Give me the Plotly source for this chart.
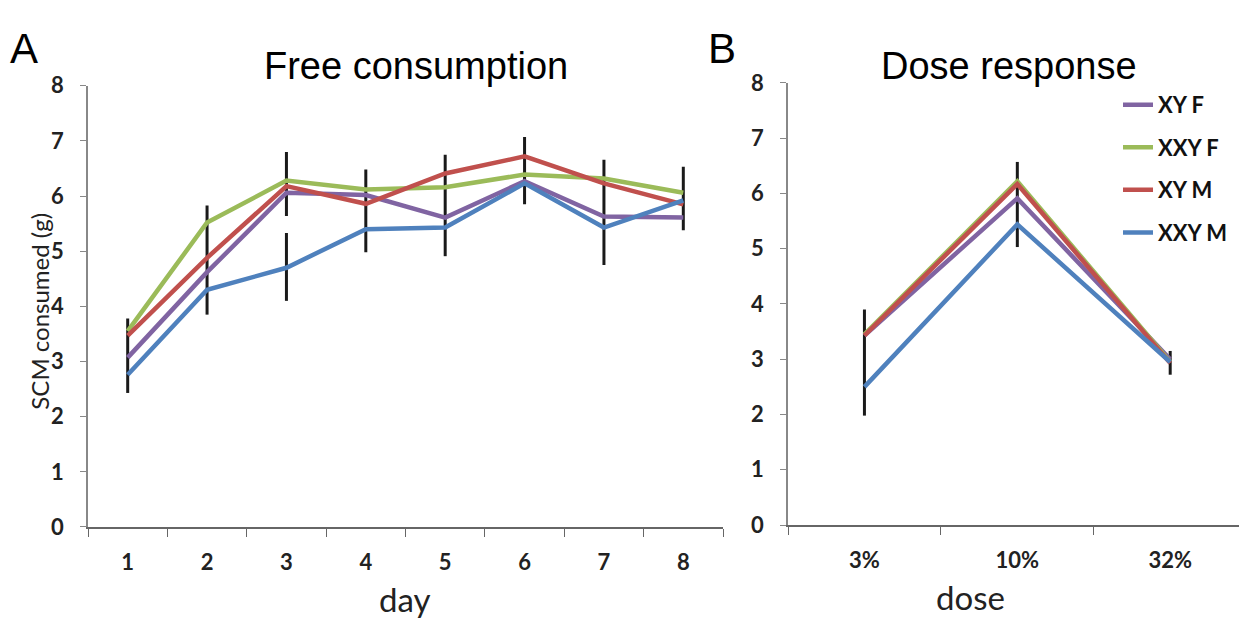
import plotly.graph_objects as go

# ---------------- data ----------------
days = ["1", "2", "3", "4", "5", "6", "7", "8"]
a_xy_f = [3.07, 4.62, 6.06, 6.02, 5.61, 6.27, 5.63, 5.61]
a_xxy_f = [3.55, 5.52, 6.28, 6.12, 6.16, 6.39, 6.32, 6.06]
a_xy_m = [3.47, 4.88, 6.18, 5.86, 6.41, 6.72, 6.23, 5.85]
a_xxy_m = [2.76, 4.30, 4.70, 5.40, 5.43, 6.23, 5.43, 5.92]

a_err_day = ["1", "2", "3", "3", "4", "5", "6", "7", "8"]
a_err_lo = [2.43, 3.85, 5.64, 4.10, 4.98, 4.91, 5.85, 4.75, 5.38]
a_err_hi = [3.78, 5.83, 6.80, 5.33, 6.48, 6.75, 7.07, 6.66, 6.53]

doses = ["3%", "10%", "32%"]
b_xy_f = [3.43, 5.91, 3.00]
b_xxy_f = [3.45, 6.22, 2.95]
b_xy_m = [3.43, 6.17, 2.93]
b_xxy_m = [2.50, 5.44, 2.95]

b_err_dose = ["3%", "10%", "32%"]
b_err_lo = [1.98, 5.03, 2.72]
b_err_hi = [3.90, 6.57, 3.15]

series_names = ["XY F", "XXY F", "XY M", "XXY M"]
colors = ["#8064A2", "#9BBB59", "#C0504D", "#4F81BD"]

# ---------------- figure ----------------
fig = go.Figure()

def err_segments(xs, lo, hi):
    X, Y = [], []
    for x, l, h in zip(xs, lo, hi):
        X += [x, x, None]
        Y += [l, h, None]
    return X, Y

ex, ey = err_segments(a_err_day, a_err_lo, a_err_hi)
fig.add_trace(go.Scatter(x=ex, y=ey, mode="lines", line=dict(color="#1a1a1a", width=3),
                         showlegend=False, hoverinfo="skip", xaxis="x", yaxis="y"))
ex, ey = err_segments(b_err_dose, b_err_lo, b_err_hi)
fig.add_trace(go.Scatter(x=ex, y=ey, mode="lines", line=dict(color="#1a1a1a", width=3),
                         showlegend=False, hoverinfo="skip", xaxis="x2", yaxis="y2"))

for name, col, ya in zip(series_names, colors, [a_xy_f, a_xxy_f, a_xy_m, a_xxy_m]):
    fig.add_trace(go.Scatter(x=days, y=ya, mode="lines", name=name,
                             line=dict(color=col, width=4.5), showlegend=False,
                             xaxis="x", yaxis="y"))
for name, col, yb in zip(series_names, colors, [b_xy_f, b_xxy_f, b_xy_m, b_xxy_m]):
    fig.add_trace(go.Scatter(x=doses, y=yb, mode="lines", name=name,
                             line=dict(color=col, width=4.5), showlegend=True,
                             legendgroup=name, xaxis="x2", yaxis="y2"))

W, H = 1239, 628
tickfont = dict(family="Lato", size=22, color="#222222", weight="bold")

xcommon = dict(type="category", tickson="boundaries", ticks="outside", ticklen=8,
               tickcolor="#666666", tickwidth=1.2, showline=True, linecolor="#666666",
               linewidth=1.5, showgrid=False, zeroline=False, tickfont=tickfont,
               ticklabelstandoff=15)
ycommon = dict(range=[0, 8], tickvals=[0, 1, 2, 3, 4, 5, 6, 7, 8], ticks="outside",
               ticklen=6, tickcolor="#888888", tickwidth=1.2, showline=True,
               linecolor="#888888", linewidth=1.5, showgrid=False, zeroline=False,
               tickfont=tickfont, ticklabelstandoff=12)

fig.update_layout(
    width=W, height=H,
    margin=dict(l=0, r=0, t=0, b=0),
    paper_bgcolor="white", plot_bgcolor="white",
    xaxis=dict(domain=[88 / W, 723 / W], range=[-0.5, 7.5], anchor="y", **xcommon),
    yaxis=dict(domain=[1 - 536 / H, 1 - 75 / H], anchor="x", **ycommon),
    xaxis2=dict(domain=[788 / W, 1.0], range=[-0.5, 2.45], anchor="y2", **xcommon),
    yaxis2=dict(domain=[1 - 534 / H, 1 - 72 / H], anchor="x2", **ycommon),
    legend=dict(x=1118 / W, y=1 - 73 / H, xanchor="left", yanchor="top",
                font=dict(family="Lato", size=22, color="#111111", weight="bold"),
                tracegroupgap=11, itemwidth=30, bgcolor="rgba(0,0,0,0)"),
    showlegend=True,
)

ann = [
    dict(text="A", x=8 / W, y=1 - 36 / H, font=dict(family="Liberation Sans", size=42, color="black"),
         xanchor="left"),
    dict(text="B", x=706 / W, y=1 - 36 / H, font=dict(family="Liberation Sans", size=42, color="black"),
         xanchor="left"),
    dict(text="Free consumption", x=416 / W, y=1 - 54 / H,
         font=dict(family="Liberation Sans", size=38, color="black")),
    dict(text="Dose response", x=1009 / W, y=1 - 54 / H,
         font=dict(family="Liberation Sans", size=38, color="black")),
    dict(text="day", x=405 / W, y=1 - 611 / H, font=dict(family="Lato", size=33, color="#222222")),
    dict(text="dose", x=970 / W, y=1 - 609 / H, font=dict(family="Lato", size=33, color="#222222")),
    dict(text="SCM consumed (g)", x=40 / W, y=1 - 310 / H, textangle=-90,
         font=dict(family="Lato", size=24, color="#222222")),
]
for a in ann:
    a.update(xref="paper", yref="paper", showarrow=False, yanchor="middle")
    a.setdefault("xanchor", "center")
fig.update_layout(annotations=ann)

fig.write_html("out.html")
